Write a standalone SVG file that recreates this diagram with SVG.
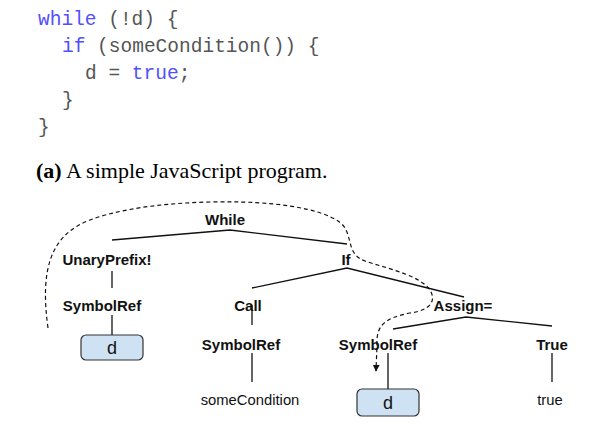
<svg xmlns="http://www.w3.org/2000/svg" width="614" height="439" viewBox="0 0 614 439">
<defs>
<style>
.code{font-family:"Liberation Mono","Courier New",monospace;font-size:19.5px;fill:#555;}
.kw{fill:#5050ff;}
.cap{font-family:"Liberation Serif","Times New Roman",serif;font-size:22px;fill:#000;}
.lbl{font-family:"Liberation Sans",Arial,sans-serif;font-size:15px;font-weight:bold;fill:#111;text-anchor:middle;}
.val{font-family:"Liberation Sans",Arial,sans-serif;font-size:14.8px;fill:#111;text-anchor:middle;}
.dval{font-family:"Liberation Sans",Arial,sans-serif;font-size:18px;fill:#111;text-anchor:middle;}
.edge{stroke:#111;stroke-width:1.3;fill:none;}
.box{fill:#cfe2f3;stroke:#333;stroke-width:1.2;}
.dash{stroke:#111;stroke-width:1.2;fill:none;stroke-dasharray:4 3;}
</style>
<marker id="arr" viewBox="0 0 10 10" refX="9" refY="5" markerWidth="7" markerHeight="7" orient="auto" markerUnits="userSpaceOnUse">
<path d="M0,0 L10,5 L0,10 z" fill="#111"/>
</marker>
</defs>
<rect width="614" height="439" fill="#fff"/>
<g id="code">
<text class="code" x="38" y="25"><tspan class="kw">while</tspan> (!d) {</text>
<text class="code" x="62" y="52"><tspan class="kw">if</tspan> (someCondition()) {</text>
<text class="code" x="85" y="79">d = <tspan class="kw">true</tspan>;</text>
<text class="code" x="62" y="106">}</text>
<text class="code" x="38" y="133">}</text>
</g>
<g id="caption">
<text class="cap" x="36" y="178"><tspan font-weight="bold">(a)</tspan> A simple JavaScript program.</text>
</g>
<g id="connectors">
<polyline class="edge" points="112,240 230,230 347,244"/>
<line class="edge" x1="112" y1="271" x2="112" y2="288"/>
<line class="edge" x1="112" y1="315" x2="112" y2="335"/>
<polyline class="edge" points="252,288 347,268 464,297"/>
<line class="edge" x1="252" y1="305" x2="252" y2="325"/>
<line class="edge" x1="252" y1="353" x2="252" y2="382"/>
<polyline class="edge" points="393,329 466,317 552,326"/>
<line class="edge" x1="388" y1="353" x2="388" y2="389"/>
<line class="edge" x1="552" y1="353" x2="552" y2="382"/>
<path class="dash" d="M48,328 C40,270 50,235 90,220 C130,205 190,201 240,202 C290,203 335,212 345,228 C352,240 348,255 365,261 C385,268 420,275 430,290 C436,300 432,310 410,313 C385,318 376,325 377,345 L376,371" marker-end="url(#arr)"/>
</g>
<g id="n-while"><text class="lbl" x="225" y="225">While</text></g>
<g id="n-unary"><text class="lbl" x="107" y="265">UnaryPrefix!</text></g>
<g id="n-symref1"><text class="lbl" x="102" y="311">SymbolRef</text></g>
<g id="n-d1"><rect class="box" x="81" y="335" width="62" height="25" rx="5"/><text class="dval" x="112" y="354">d</text></g>
<g id="n-if"><text class="lbl" x="346" y="265">If</text></g>
<g id="n-call"><text class="lbl" x="248" y="311">Call</text></g>
<g id="n-symref2"><text class="lbl" x="241" y="350">SymbolRef</text></g>
<g id="n-somecond"><text class="val" x="250" y="405">someCondition</text></g>
<g id="n-assign"><text class="lbl" x="463" y="311">Assign=</text></g>
<g id="n-symref3"><text class="lbl" x="378" y="350">SymbolRef</text></g>
<g id="n-d2"><rect class="box" x="357" y="389" width="62" height="27" rx="5"/><text class="dval" x="388" y="409">d</text></g>
<g id="n-true"><text class="lbl" x="552" y="350">True</text></g>
<g id="n-trueval"><text class="val" x="550" y="405">true</text></g>
</svg>
